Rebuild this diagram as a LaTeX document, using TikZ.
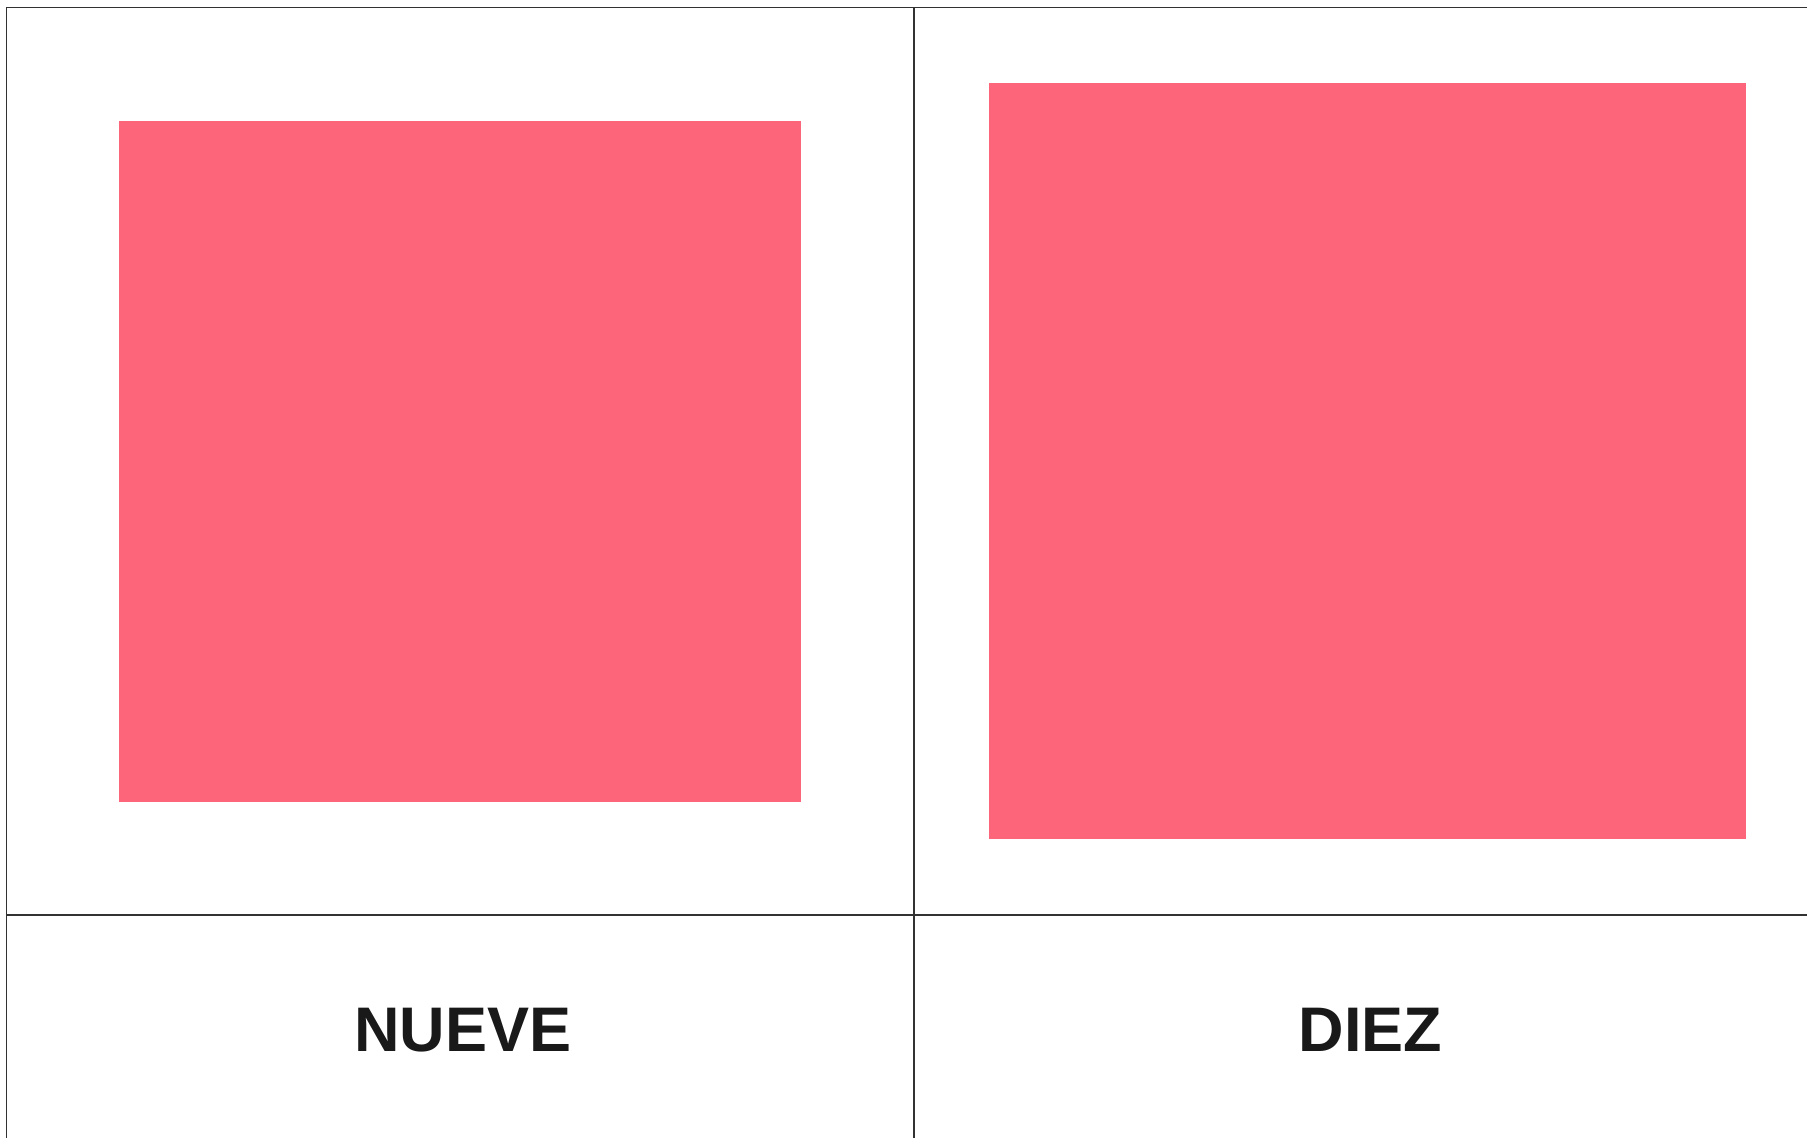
\documentclass[tikz,border=0pt]{standalone}
\usepackage{fontspec}
\setmainfont{Liberation Sans}
\definecolor{sqpink}{RGB}{253,102,122}
\definecolor{gridgray}{RGB}{50,50,50}
\begin{document}
\begin{tikzpicture}[x=1pt,y=-1pt,
  gridline/.style={draw=gridgray,line width=1.6pt},
  sq/.style={fill=sqpink,draw=none},
  lbl/.style={font=\fontsize{63}{70}\selectfont\bfseries,text=black!90,anchor=base,inner sep=0pt}]
\useasboundingbox (0,0) rectangle (1807,1138);
\coordinate (tl) at (6.5,7.5);
\coordinate (tr) at (1807,7.5);
\coordinate (bl) at (6.5,1138);
\coordinate (mt) at (913.7,7.5);
\coordinate (mb) at (913.7,1138);
\coordinate (hl) at (6.5,914.7);
\coordinate (hr) at (1807,914.7);
\draw[gridline] (tr) -- (tl) -- (bl);
\draw[gridline] (mt) -- (mb);
\draw[gridline] (hl) -- (hr);
\path[sq] (119.3,120.7) rectangle (800.7,802);
\path[sq] (988.8,82.7) rectangle (1746,839);
\node[lbl] (nueve) at (463,1051) {NUEVE};
\node[lbl] (diez) at (1370.5,1051) {DIEZ};
\end{tikzpicture}
\end{document}
